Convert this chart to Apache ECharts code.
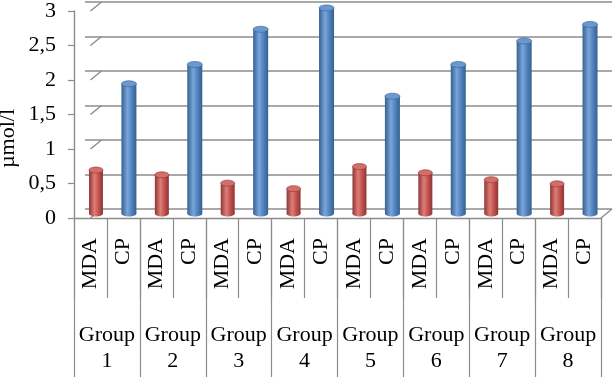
<!DOCTYPE html>
<html>
<head>
<meta charset="utf-8">
<script src="https://cdn.jsdelivr.net/npm/echarts@6/dist/echarts.min.js"></script>
<style>
  html, body { margin: 0; padding: 0; background: #fff; }
  #chart { width: 613px; height: 377px; }
</style>
</head>
<body>
<div id="chart"></div>
<script>
const groups = ['Group\n1', 'Group\n2', 'Group\n3', 'Group\n4', 'Group\n5', 'Group\n6', 'Group\n7', 'Group\n8']
const markers = ['MDA', 'CP']
const mdaValues = [0.63, 0.56, 0.44, 0.36, 0.68, 0.59, 0.49, 0.43]
const cpValues = [1.88, 2.16, 2.67, 2.98, 1.70, 2.16, 2.50, 2.74]
const yTicks = [0, 0.5, 1, 1.5, 2, 2.5, 3]

// 16 cells: MDA, CP for each group
const cells = []
const barData = []
groups.forEach((g, i) => {
  cells.push(markers[0], markers[1])
  barData.push([i * 2, mdaValues[i], 0])
  barData.push([i * 2 + 1, cpValues[i], 1])
})

const font = "'Liberation Serif', 'Times New Roman', serif"
const fs = 22
const lineColor = '#8c8c8c'
const depth = [11, -9]

const palette = [
  { dark: '#8e3633', mid: '#c0504d', light: '#de7d79', top: '#d46e6a' },
  { dark: '#35608f', mid: '#4f81bd', light: '#7aa5da', top: '#6b98d0' }
]

const cylinder = (params, api) => {
  const p = api.coord([api.value(0), api.value(1)])
  const base = api.coord([api.value(0), 0])
  const c = palette[api.value(2)]
  const w = api.value(2) === 0 ? 14 : 15
  const ry = 3
  const grad = {
    type: 'linear', x: 0, y: 0, x2: 1, y2: 0,
    colorStops: [
      { offset: 0, color: c.dark },
      { offset: 0.4, color: c.light },
      { offset: 0.7, color: c.mid },
      { offset: 1, color: c.dark }
    ]
  }
  return {
    type: 'group',
    children: [
      { type: 'ellipse', shape: { cx: base[0], cy: base[1], rx: w / 2, ry: ry }, style: { fill: grad } },
      { type: 'rect', shape: { x: p[0] - w / 2, y: p[1], width: w, height: base[1] - p[1] }, style: { fill: grad } },
      { type: 'ellipse', shape: { cx: p[0], cy: p[1], rx: w / 2, ry: ry }, style: { fill: c.top, stroke: c.dark, lineWidth: 0.6 } }
    ]
  }
}

// diagonal lines of the left wall and the floor edge
const wallLines = (params, api) => {
  const kind = api.value(1)
  const p = kind === 0 ? api.coord([0, api.value(0)]) : api.coord([15, 0])
  const x0 = kind === 0 ? p[0] : p[0] + api.size([1, 0])[0] / 2
  return {
    type: 'line',
    shape: { x1: x0, y1: p[1], x2: x0 + depth[0], y2: p[1] + depth[1] },
    style: { stroke: lineColor, lineWidth: 1.4 }
  }
}

const wallData = yTicks.map(v => [v, 0]).concat([[0, 1]])

const chart = echarts.init(document.getElementById('chart'))

chart.setOption({
  animation: false,
  textStyle: { fontFamily: font },
  grid: [
    { left: 74, right: 12, top: 11, bottom: 159, outerBoundsMode: 'none', containLabel: false },   // front
    { left: 85, right: 1, top: 2, bottom: 168, outerBoundsMode: 'none', containLabel: false },     // back wall
    { left: 79.5, right: 6.5, top: 6.5, bottom: 163.5, outerBoundsMode: 'none', containLabel: false } // bars, mid depth
  ],
  xAxis: [
    {
      gridIndex: 0, type: 'category', data: cells,
      axisLine: { lineStyle: { color: lineColor, width: 1.4 } },
      axisTick: { show: true, interval: 0, length: 80, lineStyle: { color: lineColor, width: 1.2 } },
      axisLabel: { interval: 0, rotate: 90, margin: 20, color: '#000', fontSize: fs, fontFamily: font }
    },
    {
      gridIndex: 0, type: 'category', data: groups, position: 'bottom',
      axisLine: { show: false },
      axisTick: { show: true, interval: 0, length: 160, lineStyle: { color: lineColor, width: 1.2 } },
      axisLabel: { interval: 0, margin: 104, color: '#000', fontSize: fs, lineHeight: 26, fontFamily: font }
    },
    { gridIndex: 1, type: 'category', data: cells, show: false },
    { gridIndex: 2, type: 'category', data: cells, show: false }
  ],
  yAxis: [
    {
      gridIndex: 0, type: 'value', min: 0, max: 3, interval: 0.5,
      name: 'µmol/l', nameLocation: 'middle', nameGap: 55, nameMoveOverlap: false,
      nameTextStyle: { color: '#000', fontSize: fs, fontFamily: font, padding: [0, 48, 0, 0] },
      axisLine: { show: true, lineStyle: { color: lineColor, width: 1.4 } },
      axisTick: { show: true, length: 6, lineStyle: { color: lineColor, width: 1.2 } },
      axisLabel: { margin: 18, color: '#000', fontSize: fs, fontFamily: font,
        formatter: v => String(v).replace('.', ',') },
      splitLine: { show: false }
    },
    {
      gridIndex: 1, type: 'value', min: 0, max: 3, interval: 0.5,
      axisLine: { show: false }, axisTick: { show: false }, axisLabel: { show: false },
      splitLine: { show: true, lineStyle: { color: lineColor, width: 1.6 } }
    },
    { gridIndex: 2, type: 'value', min: 0, max: 3, interval: 0.5, show: false, splitLine: { show: false } }
  ],
  series: [
    {
      type: 'custom', xAxisIndex: 0, yAxisIndex: 0,
      renderItem: wallLines, data: wallData, silent: true, z: 1
    },
    {
      type: 'custom', xAxisIndex: 3, yAxisIndex: 2,
      renderItem: cylinder, data: barData, z: 5
    }
  ]
})
</script>
</body>
</html>
